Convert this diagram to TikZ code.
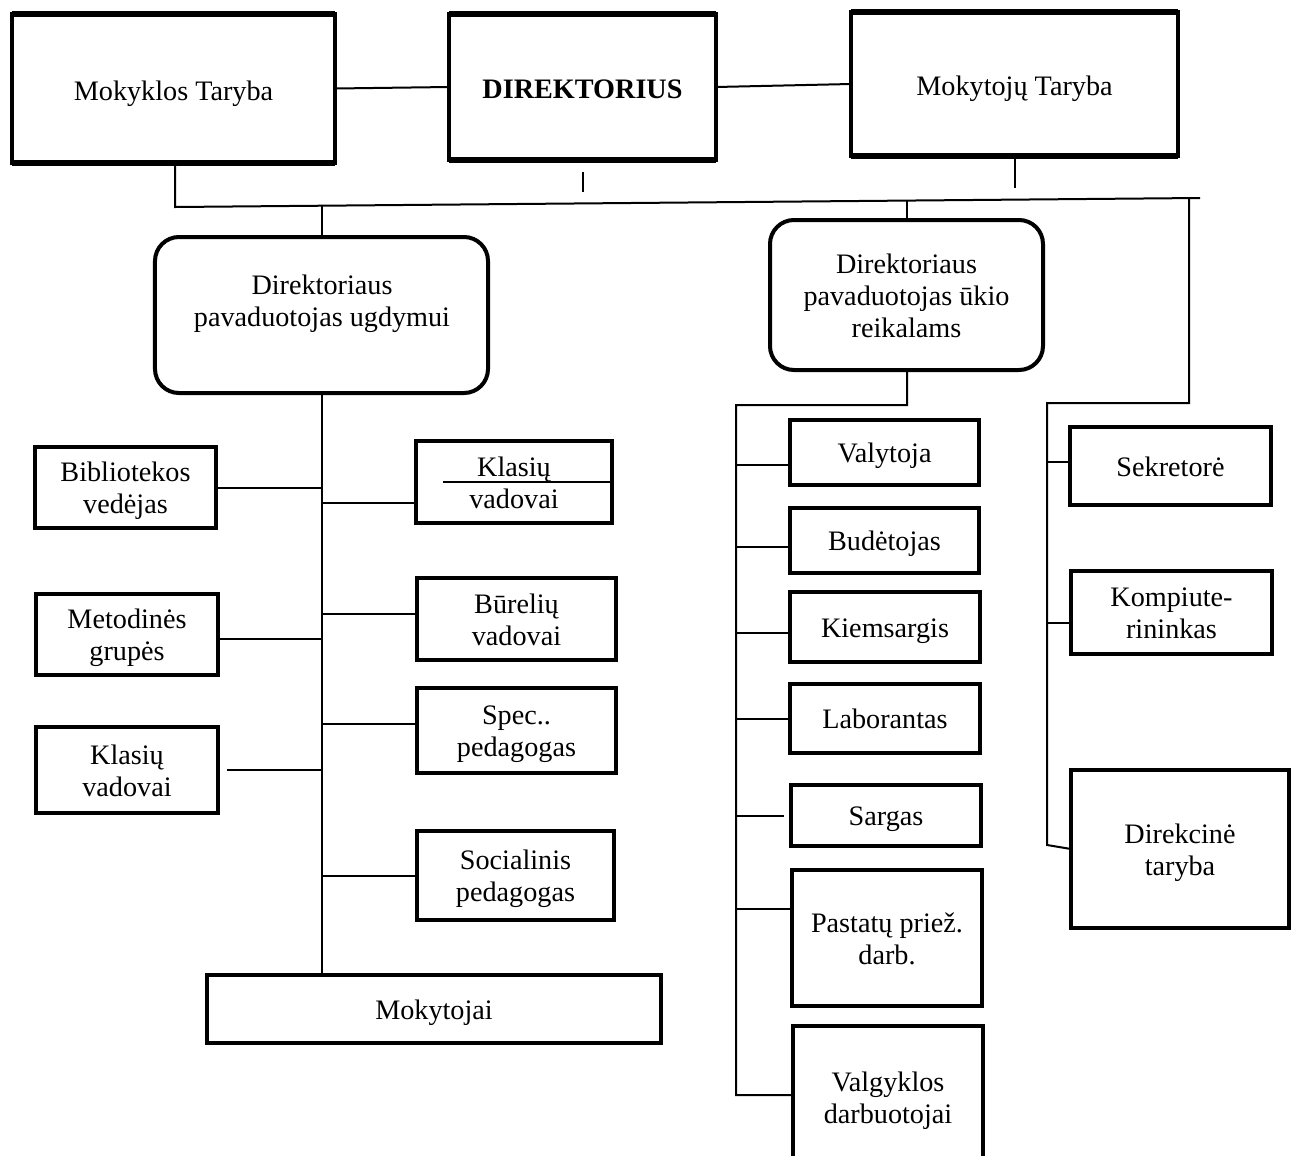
\documentclass[tikz,border=0pt]{standalone}
\usepackage{fontspec}
\setmainfont{Liberation Serif}
\newcommand\mydiagfont{\fontsize{28.2bp}{32bp}\selectfont}
\newcommand\bx[1]{\raisebox{0pt}[\dimexpr\height+8bp\relax][\depth]{\begin{tabular}{@{}c@{}}#1\end{tabular}}}
\newcommand\bxt[1]{\raisebox{0pt}[\dimexpr\height+11bp\relax][\depth]{\begin{tabular}{@{}c@{}}#1\end{tabular}}}
\begin{document}
\begin{tikzpicture}[x=1bp,y=-1bp,
  box/.style={draw, line width=4bp, inner sep=0pt, outer sep=0pt, font=\mydiagfont},
  rbox/.style={box, rounded corners=24bp},
  tbox/.style={box, line width=3.5bp},
  conn/.style={line width=2bp},
  txt/.style={font=\mydiagfont, inner sep=0pt}]
\useasboundingbox (0,0) rectangle (1295,1156);
\fill[white] (0,0) rectangle (1295,1156);

% top row
\node[tbox, minimum width=323bp, minimum height=149bp] (mt) at (173.5,88.5) {\bxt{Mokyklos Taryba}};
\node[tbox, minimum width=267bp, minimum height=146bp] (dir) at (582.5,87) {\bxt{\textbf{DIREKTORIUS}}};
\node[tbox, minimum width=327bp, minimum height=144bp] (myt) at (1014.5,84) {\bxt{Mokytojų Taryba}};
\foreach \n in {mt,dir,myt}{
  \draw[line width=6bp] (\n.north west) -- (\n.north east);
  \draw[line width=6.5bp] (\n.south west) -- (\n.south east);
}

% deputies
\node[rbox, minimum width=333bp, minimum height=156bp] (ugd) at (321.5,315) {};
\node[txt] (ugdt) at (322,300) {\bx{Direktoriaus\\pavaduotojas ugdymui}};
\node[rbox, minimum width=273bp, minimum height=150bp] (uk) at (906.5,295) {\bx{Direktoriaus\\pavaduotojas ūkio\\reikalams}};

% left column
\node[box, minimum width=181bp, minimum height=81bp] (bib) at (125.5,487.5) {\bx{Bibliotekos\\vedėjas}};
\node[box, minimum width=182bp, minimum height=81bp] (met) at (127,634.5) {\bx{Metodinės\\grupės}};
\node[box, minimum width=182bp, minimum height=86bp] (kl) at (127,770) {\bx{Klasių\\vadovai}};
\node[box, minimum width=196bp, minimum height=82bp] (kr) at (514,482) {\bx{Klasių\\vadovai}};
\node[box, minimum width=199bp, minimum height=82bp] (bur) at (516.5,619) {\bx{Būrelių\\vadovai}};
\node[box, minimum width=199bp, minimum height=85bp] (spec) at (516.5,730.5) {\bx{Spec..\\pedagogas}};
\node[box, minimum width=197bp, minimum height=89bp] (soc) at (515.5,875.5) {\bx{Socialinis\\pedagogas}};
\node[box, minimum width=454bp, minimum height=68bp] (mok) at (434,1009) {\bx{Mokytojai}};
\draw[line width=1.5bp] ([xshift=27bp]kr.west) -- (kr.east);

% middle column
\node[box, minimum width=189bp, minimum height=65bp] (vt) at (884.5,452.5) {\bx{Valytoja}};
\node[box, minimum width=189bp, minimum height=65bp] (bd) at (884.5,540.5) {\bx{Budėtojas}};
\node[box, minimum width=190bp, minimum height=70bp] (ki) at (885,627) {\bx{Kiemsargis}};
\node[box, minimum width=190bp, minimum height=69bp] (lb) at (885,718.5) {\bx{Laborantas}};
\node[box, minimum width=190bp, minimum height=61bp] (sg) at (886,815.5) {\bx{Sargas}};
\node[box, minimum width=190bp, minimum height=136bp] (pz) at (887,938) {\bx{Pastatų priež.\\darb.}};
\node[box, minimum width=190bp, minimum height=142bp] (vd) at (888,1097) {\bx{Valgyklos\\darbuotojai}};

% right column
\node[box, minimum width=201bp, minimum height=78bp] (sek) at (1170.5,466) {\bx{Sekretorė}};
\node[box, minimum width=201bp, minimum height=83bp] (kmp) at (1171.5,612.5) {\bx{Kompiute-\\rininkas}};
\node[box, minimum width=218bp, minimum height=158bp] (dk) at (1180,849) {\bx{Direkcinė\\taryba}};

% top connectors
\draw[conn] (mt.east) -- (dir.west);
\draw[conn] (dir.east) -- (myt.west);
\coordinate (busL) at (175,207);
\coordinate (busR) at (1200,198);
\draw[conn] (mt.south -| busL) -- (busL) -- (busR);
\draw[conn] ([yshift=-12bp]dir.south) -- ++(0,20);
\draw[conn] ([yshift=-2bp]myt.south) -- ++(0,30);
\coordinate (j1) at (322,205.7);
\coordinate (j2) at (907,200.6);
\coordinate (j3) at (1189,198.1);
\draw[conn] (j1) -- (ugd.north -| j1);
\draw[conn] (j2) -- (uk.north -| j2);

% right branch
\coordinate (c3) at (1189,403);
\coordinate (c4) at (1047,403);
\coordinate (c5) at (1047,845);
\draw[conn] (j3) -- (c3) -- (c4) -- (c5) -- (dk.west);
\draw[conn] ([yshift=4bp]c4 |- sek.west) -- ([yshift=4bp]sek.west);
\draw[conn] ([yshift=-10bp]c4 |- kmp.west) -- ([yshift=-10bp]kmp.west);

% ugdymui column
\coordinate (u1) at (322,395);
\draw[conn] (u1) -- (u1 |- mok.north);
\draw[conn] (bib.east) -- (bib.east -| u1);
\draw[conn] ([yshift=-4bp]met.east) -- ([yshift=-4bp]met.east -| u1);
\draw[conn] ([xshift=9bp]kl.east) -- (kl.east -| u1);
\draw[conn] ([yshift=-21bp]kr.west -| u1) -- ([yshift=-21bp]kr.west);
\draw[conn] ([yshift=5bp]bur.west -| u1) -- ([yshift=5bp]bur.west);
\draw[conn] ([yshift=7bp]spec.west -| u1) -- ([yshift=7bp]spec.west);
\draw[conn] (soc.west -| u1) -- (soc.west);

% ukio column
\coordinate (k1) at (907,405);
\coordinate (k2) at (736,405);
\coordinate (k3) at (736,1095);
\draw[conn] (uk.south -| k1) -- (k1) -- (k2) -- (k3) -- ([yshift=2bp]vd.west);
\draw[conn] ([yshift=-12bp]k2 |- vt.west) -- ([yshift=-12bp]vt.west);
\draw[conn] ([yshift=-6bp]k2 |- bd.west) -- ([yshift=-6bp]bd.west);
\draw[conn] ([yshift=-6bp]k2 |- ki.west) -- ([yshift=-6bp]ki.west);
\draw[conn] (k2 |- lb.west) -- (lb.west);
\draw[conn] (k2 |- sg.west) -- ([xshift=-7bp]sg.west);
\draw[conn] ([yshift=29bp]k2 |- pz.west) -- ([yshift=29bp]pz.west);
\end{tikzpicture}
\end{document}
